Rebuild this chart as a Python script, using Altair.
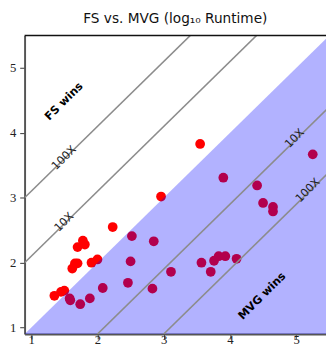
import altair as alt
import pandas as pd

# FS vs MVG log10 runtimes (x = MVG, y = FS)
mvg = [1.35, 1.45, 1.50, 1.62, 1.66, 1.70, 1.70, 1.78, 1.81, 1.91, 2.00, 2.23, 2.96, 3.55,
       1.58, 1.59, 1.74, 1.885, 2.08, 2.46, 2.50, 2.52, 2.83, 2.85, 3.11, 3.57, 3.71, 3.76,
       3.83, 3.90, 3.93, 4.10, 4.41, 4.50, 4.65, 4.65, 5.25]
fs = [1.49, 1.55, 1.57, 1.91, 1.99, 1.99, 2.24, 2.34, 2.28, 2.00, 2.05, 2.55, 3.02, 3.83,
      1.45, 1.42, 1.36, 1.45, 1.61, 1.69, 2.02, 2.41, 1.60, 2.33, 1.86, 2.00, 1.86, 2.03,
      2.10, 3.31, 2.10, 2.06, 3.19, 2.92, 2.86, 2.79, 3.67]

ticks = [1, 2, 3, 4, 5]
x_dom = [0.9, 5.45]
y_dom = [0.9, 5.5]

line_offsets = [1.1, 2.1, -1.1, -2.1]
line_x = [0.9, 6.0]

labels = ["FS wins", "100X", "10X", "10X", "100X", "MVG wins"]
label_x = [1.50, 1.50, 1.50, 4.98, 5.18, 4.49]
label_y = [4.48, 3.61, 2.62, 3.91, 3.11, 1.48]
label_bold = [True, False, False, False, False, True]

W, H = 309, 306

pts = pd.DataFrame({"mvg": mvg, "fs": fs})
lines = pd.DataFrame([{"g": i, "x": x, "y": x + o} for i, o in enumerate(line_offsets) for x in line_x])
diag = pd.DataFrame({"x": line_x, "y": line_x, "y0": [y_dom[0]] * 2})
txt = pd.DataFrame({"t": labels, "x": label_x, "y": label_y, "b": label_bold})

xs = alt.Scale(domain=x_dom, nice=False, zero=False)
ys = alt.Scale(domain=y_dom, nice=False, zero=False)

xax = alt.Axis(values=ticks, format="d", title=None, grid=False, tickSize=5, tickColor="#333",
               domainColor="#555", domainWidth=2, labelFont="Liberation Serif",
               labelFontSize=13, labelColor="#222", labelPadding=5,
               labelBaseline="alphabetic")
yax = alt.Axis(values=ticks, format="d", title=None, grid=False, tickSize=5, tickColor="#333",
               domainColor="#555", domainWidth=2, labelFont="Liberation Serif",
               labelFontSize=13, labelColor="#222", labelPadding=4)

points = alt.Chart(pts).mark_circle(size=100, color="#ff0000", opacity=1).encode(
    x=alt.X("mvg:Q", scale=xs, axis=xax),
    y=alt.Y("fs:Q", scale=ys, axis=yax),
)

area = alt.Chart(diag).mark_area(color="#0000ff", opacity=0.3, clip=True).encode(
    x=alt.X("x:Q", scale=xs), y=alt.Y("y:Q", scale=ys), y2="y0:Q"
)

lns = alt.Chart(lines).mark_line(color="#8c8c8c", strokeWidth=1.6, clip=True).encode(
    x=alt.X("x:Q", scale=xs), y=alt.Y("y:Q", scale=ys), detail="g:N"
)

bold_txt = alt.Chart(txt[txt.b]).mark_text(angle=315, font="DejaVu Sans", fontWeight="bold",
                                           fontSize=11.5, color="black").encode(
    x=alt.X("x:Q", scale=xs), y=alt.Y("y:Q", scale=ys), text="t:N"
)
reg_txt = alt.Chart(txt[~txt.b]).mark_text(angle=315, font="DejaVu Sans",
                                           fontSize=11.5, color="#222").encode(
    x=alt.X("x:Q", scale=xs), y=alt.Y("y:Q", scale=ys), text="t:N"
)

top_border = alt.Chart(pd.DataFrame({"a": [0]})).mark_rule(color="#111", strokeWidth=1.6).encode(
    x=alt.value(0), x2=alt.value(W), y=alt.value(0)
)

chart = alt.layer(points, area, lns, reg_txt, bold_txt, top_border).properties(
    width=W, height=H,
    title=alt.TitleParams("FS vs. MVG (log₁₀ Runtime)", font="DejaVu Sans", fontSize=14,
                          fontWeight="normal", color="#111", offset=9),
    autosize=alt.AutoSizeParams(type="none"),
    padding={"left": 17, "top": 24, "right": 0, "bottom": 10},
).configure_view(stroke=None)

chart.save("out.html", embed_options={"renderer": "svg", "actions": False})
